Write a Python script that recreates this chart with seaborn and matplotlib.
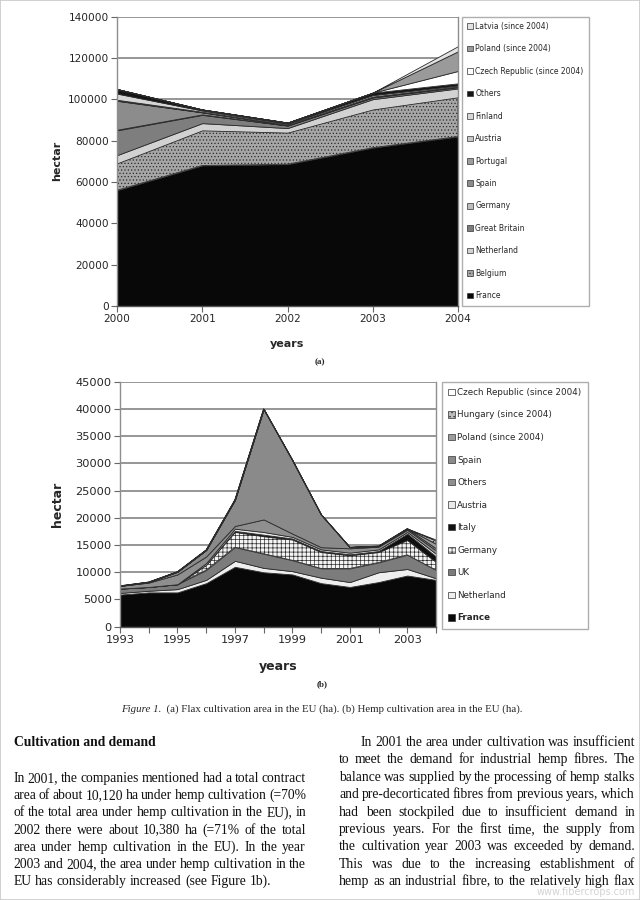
import numpy as np
import pandas as pd
import matplotlib
matplotlib.use("Agg")
import matplotlib.pyplot as plt
import seaborn as sns
from matplotlib.patches import Patch, Rectangle

# ---------------- data: (a) flax area (ha) ----------------
flax_years = [2000, 2001, 2002, 2003, 2004]
flax_france = [56000, 68000, 68600, 76600, 82000]
flax_belgium = [13000, 17000, 15300, 18500, 19000]
flax_netherland = [4000, 3500, 2200, 5000, 4300]
flax_great_britain = [12000, 4000, 1200, 800, 600]
flax_germany = [300, 200, 100, 200, 200]
flax_spain = [14000, 1000, 200, 100, 0]
flax_portugal = [200, 100, 50, 50, 50]
flax_austria = [300, 200, 100, 100, 100]
flax_finland = [3000, 600, 500, 700, 500]
flax_others = [2200, 500, 500, 1200, 1000]
flax_czech = [0, 0, 0, 0, 6000]
flax_poland = [0, 0, 0, 0, 9500]
flax_latvia = [0, 0, 0, 0, 2500]
flax_labels = ["France", "Belgium", "Netherland", "Great Britain", "Germany",
               "Spain", "Portugal", "Austria", "Finland", "Others",
               "Czech Republic (since 2004)", "Poland (since 2004)",
               "Latvia (since 2004)"]

# ---------------- data: (b) hemp area (ha) ----------------
hemp_years = [1993, 1994, 1995, 1996, 1997, 1998, 1999, 2000, 2001, 2002, 2003, 2004]
hemp_france = [5900, 6300, 6300, 8000, 11000, 10000, 9600, 8000, 7300, 8200, 9400, 8600]
hemp_netherland = [300, 300, 600, 600, 1100, 800, 600, 1000, 900, 1800, 1200, 300]
hemp_uk = [800, 700, 900, 1800, 2500, 2600, 2000, 1700, 2500, 1800, 2600, 1500]
hemp_germany = [0, 0, 0, 1000, 2800, 3200, 3800, 3000, 2400, 1900, 2700, 1500]
hemp_italy = [0, 0, 0, 0, 200, 300, 200, 200, 200, 200, 1200, 1000]
hemp_austria = [0, 0, 0, 300, 400, 500, 300, 300, 300, 300, 300, 500]
hemp_others = [500, 800, 1800, 1200, 500, 2300, 600, 400, 800, 500, 400, 600]
hemp_spain = [0, 100, 500, 1200, 4800, 20300, 13500, 6000, 200, 100, 200, 400]
hemp_poland = [0, 0, 0, 0, 0, 0, 0, 0, 0, 0, 0, 800]
hemp_hungary = [0, 0, 0, 0, 0, 0, 0, 0, 0, 0, 0, 600]
hemp_czech = [0, 0, 0, 0, 0, 0, 0, 0, 0, 0, 0, 200]
hemp_labels = ["France", "Netherland", "UK", "Germany", "Italy", "Austria",
               "Others", "Spain", "Poland (since 2004)", "Hungary (since 2004)",
               "Czech Republic (since 2004)"]

flax_yticks = [0, 20000, 40000, 60000, 80000, 100000, 120000, 140000]
hemp_yticks = [0, 5000, 10000, 15000, 20000, 25000, 30000, 35000, 40000, 45000]
hemp_xticklabels = [1993, 1995, 1997, 1999, 2001, 2003]

caption_italic = "Figure 1."
caption_rest = "  (a) Flax cultivation area in the EU (ha). (b) Hemp cultivation area in the EU (ha)."
heading = "Cultivation and demand"
left_lines = [
    "In 2001, the companies mentioned had a total contract",
    "area of about 10,120 ha under hemp cultivation (=70%",
    "of the total area under hemp cultivation in the EU), in",
    "2002 there were about 10,380 ha (=71% of the total",
    "area under hemp cultivation in the EU). In the year",
    "2003 and 2004, the area under hemp cultivation in the",
    "EU has considerably increased (see Figure 1b).",
]
right_lines = [
    "In 2001 the area under cultivation was insufficient",
    "to meet the demand for industrial hemp fibres. The",
    "balance was supplied by the processing of hemp stalks",
    "and pre-decorticated fibres from previous years, which",
    "had been stockpiled due to insufficient demand in",
    "previous years. For the first time, the supply from",
    "the cultivation year 2003 was exceeded by demand.",
    "This was due to the increasing establishment of",
    "hemp as an industrial fibre, to the relatively high flax",
]

# ---------------- styling ----------------
sns.set_theme(style="white")
plt.rcParams['font.family'] = ['DejaVu Sans']
plt.rcParams['hatch.color'] = '#5a5a5a'
plt.rcParams['hatch.linewidth'] = 0.5

W, H = 640, 900
fig = plt.figure(figsize=(6.4, 9), dpi=100)
fig.patch.set_facecolor('white')


def rect(l, t, r, b):
    return [l / W, 1 - b / H, (r - l) / W, (b - t) / H]


def style_axes(ax, fs):
    ax.set_axisbelow(True)
    ax.yaxis.grid(True, color='#8e8e8e', lw=1.3)
    ax.xaxis.grid(False)
    for s in ['left', 'right', 'top']:
        ax.spines[s].set_color('#8e8e8e')
        ax.spines[s].set_linewidth(1.0)
    ax.spines['top'].set_visible(False)
    ax.spines['bottom'].set_color('#555555')
    ax.spines['bottom'].set_linewidth(1.0)
    ax.tick_params(axis='both', direction='out', length=4, width=0.8,
                   color='#666666', labelsize=fs, pad=2,
                   left=True, bottom=True)


# ---------------- (a) flax ----------------
ax1 = fig.add_axes(rect(117, 16.7, 458, 306))
flax_df = pd.DataFrame({
    flax_labels[0]: flax_france, flax_labels[1]: flax_belgium,
    flax_labels[2]: flax_netherland, flax_labels[3]: flax_great_britain,
    flax_labels[4]: flax_germany, flax_labels[5]: flax_spain,
    flax_labels[6]: flax_portugal, flax_labels[7]: flax_austria,
    flax_labels[8]: flax_finland, flax_labels[9]: flax_others,
    flax_labels[10]: flax_czech, flax_labels[11]: flax_poland,
    flax_labels[12]: flax_latvia}, index=flax_years)
flax_colors = ['#080808', '#a6a6a6', '#d2d2d2', '#7e7e7e', '#bdbdbd',
               '#8c8c8c', '#9d9d9d', '#c9c9c9', '#d6d6d6', '#151515',
               '#ffffff', '#9a9a9a', '#e2e2e2']
flax_hatches = [None, '.....', None, None, None, None, None, None, None,
                None, None, None, None]
polys1 = ax1.stackplot(flax_df.index, flax_df.T.values, colors=flax_colors,
                       edgecolor='#2c2c2c', linewidth=0.6)
for p, h in zip(polys1, flax_hatches):
    if h:
        p.set_hatch(h)
ax1.set_xlim(2000, 2004)
ax1.set_ylim(0, 140000)
ax1.set_xticks(flax_years)
ax1.set_xticklabels([str(y) for y in flax_years])
ax1.set_yticks(flax_yticks)
ax1.set_yticklabels([str(v) for v in flax_yticks])
style_axes(ax1, 7.6)
ax1.set_ylabel("hectar", fontsize=8, fontweight='bold')
ax1.yaxis.set_label_coords(-0.160, 0.5)
ax1.set_xlabel("years", fontsize=8, fontweight='bold')
ax1.xaxis.set_label_coords(0.5, -0.115)

h1 = [Patch(facecolor=c, edgecolor='#333333', hatch=h, linewidth=0.5, label=n)
      for n, c, h in zip(flax_labels, flax_colors, flax_hatches)][::-1]
leg1 = ax1.legend(handles=h1, loc='upper left',
                  bbox_to_anchor=(462 / W, 1 - 16.5 / H),
                  bbox_transform=fig.transFigure, fontsize=5.5,
                  frameon=True, fancybox=False, edgecolor='#9a9a9a',
                  labelspacing=1.76, handlelength=0.75, handleheight=0.75,
                  handletextpad=0.3, borderpad=0.7, borderaxespad=0)
leg1.get_frame().set_linewidth(1.0)

# ---------------- (b) hemp ----------------
ax2 = fig.add_axes(rect(120, 381.7, 436, 626.7))
hemp_df = pd.DataFrame({
    hemp_labels[0]: hemp_france, hemp_labels[1]: hemp_netherland,
    hemp_labels[2]: hemp_uk, hemp_labels[3]: hemp_germany,
    hemp_labels[4]: hemp_italy, hemp_labels[5]: hemp_austria,
    hemp_labels[6]: hemp_others, hemp_labels[7]: hemp_spain,
    hemp_labels[8]: hemp_poland, hemp_labels[9]: hemp_hungary,
    hemp_labels[10]: hemp_czech}, index=hemp_years)
hemp_colors = ['#080808', '#efefef', '#7c7c7c', '#f4f4f4', '#101010',
               '#eaeaea', '#8f8f8f', '#8a8a8a', '#9c9c9c', '#bcbcbc',
               '#ffffff']
hemp_hatches = [None, None, None, '++++', None, None, None, None, None,
                '....', None]
polys2 = ax2.stackplot(hemp_df.index, hemp_df.T.values, colors=hemp_colors,
                       edgecolor='#2c2c2c', linewidth=0.6)
for p, h in zip(polys2, hemp_hatches):
    if h:
        p.set_hatch(h)
ax2.set_xlim(1993, 2004)
ax2.set_ylim(0, 45000)
ax2.set_xticks(hemp_years)
ax2.set_xticklabels([str(y) if y in hemp_xticklabels else '' for y in hemp_years])
ax2.set_yticks(hemp_yticks)
ax2.set_yticklabels([str(v) for v in hemp_yticks])
style_axes(ax2, 8.2)
ax2.set_ylabel("hectar", fontsize=9, fontweight='bold')
ax2.yaxis.set_label_coords(-0.178, 0.5)
ax2.set_xlabel("years", fontsize=9, fontweight='bold')
ax2.xaxis.set_label_coords(0.5, -0.135)

h2 = [Patch(facecolor=c, edgecolor='#333333', hatch=h, linewidth=0.5, label=n)
      for n, c, h in zip(hemp_labels, hemp_colors, hemp_hatches)][::-1]
leg2 = ax2.legend(handles=h2, loc='upper left',
                  bbox_to_anchor=(442 / W, 1 - 381.7 / H),
                  bbox_transform=fig.transFigure, fontsize=6.3,
                  frameon=True, fancybox=False, edgecolor='#9a9a9a',
                  labelspacing=1.55, handlelength=0.75, handleheight=0.75,
                  handletextpad=0.3, borderpad=0.7, borderaxespad=0)
leg2.get_frame().set_linewidth(1.0)
leg2.get_texts()[-1].set_fontweight('bold')

# ---------------- page text ----------------
serif = ['Liberation Serif', 'DejaVu Serif']


def fx(x):
    return x / W


def fy(y):
    return 1 - y / H


fig.text(fx(320), fy(362), "(a)", fontsize=6.5, family=serif,
         fontweight='bold', ha='center', va='center')
fig.text(fx(322), fy(684), "(b)", fontsize=6.5, family=serif,
         fontweight='bold', ha='center', va='center')

renderer = fig.canvas.get_renderer()


def text_width(s, **kw):
    t = fig.text(0, 0, s, **kw)
    w = t.get_window_extent(renderer).width
    t.remove()
    return w


cap_kw = dict(fontsize=7.85, family=serif)
w_it = text_width(caption_italic, style='italic', **cap_kw)
w_rest = text_width(caption_rest, **cap_kw)
cx0 = 322 - (w_it + w_rest) / 2
fig.text(fx(cx0), fy(712), caption_italic, style='italic', va='baseline', **cap_kw)
fig.text(fx(cx0 + w_it), fy(712), caption_rest, va='baseline', **cap_kw)

fig.text(fx(13.5), fy(746), heading, fontweight='bold', va='baseline',
         fontsize=9.8, family=serif, color='#111111')

# choose body size so that every line fits its column with a small min space
col_w = 306 - 13.5
body_size = 10.6
while body_size > 8:
    kw = dict(fontsize=body_size, family=serif)
    ok = True
    for ln in left_lines + right_lines:
        words = ln.split()
        extra = 22 if ln == right_lines[0] else 0
        need = sum(text_width(w, **kw) for w in words) + 2.2 * (len(words) - 1)
        if need > col_w - extra + (3 if ln in right_lines else 0):
            ok = False
            break
    if ok:
        break
    body_size -= 0.1
body_kw = dict(fontsize=body_size, family=serif, color='#111111')


def justify(lines, x0, x1, y0, dy, last_left, first_indent=0.0):
    for i, line in enumerate(lines):
        words = line.split()
        ws = [text_width(w, **body_kw) for w in words]
        start = x0 + (first_indent if i == 0 else 0.0)
        yb = y0 + i * dy + 4
        if last_left and i == len(lines) - 1:
            gap = text_width("a b", **body_kw) - text_width("ab", **body_kw)
        else:
            gap = (x1 - start - sum(ws)) / max(len(words) - 1, 1)
        x = start
        for w, wd in zip(words, ws):
            fig.text(fx(x), fy(yb), w, va='baseline', **body_kw)
            x += wd + gap


justify(left_lines, 13.5, 306, 778, 17.2, last_left=True)
justify(right_lines, 339, 635, 742, 17.4, last_left=False, first_indent=22)

fig.text(fx(635), fy(892), "www.fibercrops.com", fontsize=7, color='#d4d4d4',
         ha='right', va='center')

fig.patches.append(Rectangle((0, 0), 1, 1, transform=fig.transFigure,
                             fill=False, edgecolor='#c8c8c8', lw=1.2))

fig.savefig("out.png", dpi=100)
